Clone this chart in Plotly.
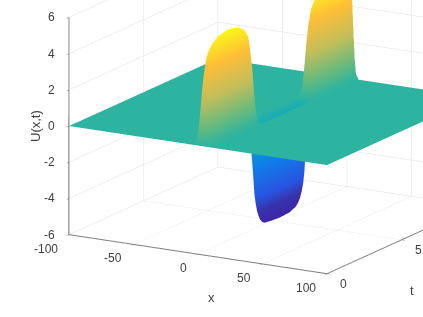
import numpy as np
import plotly.graph_objects as go

x_grid = [-100, -30, -9, -7, -6, -5, -4, -3, -2, -1, 0, 1, 2, 3, 4, 5, 6, 7, 9, 30, 100]
cross_profile = [0, 0, 0, 0, 0, 0, 0.01, 0.05, 0.14, 0.32, 0.62, 0.86, 0.97, 1, 0.85, 0.52, 0.22, 0.06, 0, 0, 0]
t_grid = [0, .1, .2, .3, .4, .55, .7, 1.1, 1.75, 2.4, 2.8, 2.95, 3.1, 3.2, 3.3, 3.4, 3.5,
          3.6, 3.7, 3.8, 3.9, 4.05, 4.2, 4.6, 5.25, 5.9, 6.3, 6.45, 6.6, 6.7, 6.8, 6.9, 7,
          7.1, 7.2, 7.3, 7.4, 7.55, 7.7, 8.1, 8.75, 9.4, 9.8, 10]
ridge_height = [0, 2.2, 3.6, 4.4, 4.9, 5.2, 5.4, 5.67, 5.8, 5.67, 5.4, 5.2, 4.9, 4.4, 3.6, 2.2, 0,
                -3, -4.7, -5.2, -5.5, -5.7, -5.8, -5.85, -5.9, -5.85, -5.7, -5.55, -5.3, -5, -4.6, -3, 0,
                2.2, 3.6, 4.4, 4.9, 5.2, 5.4, 5.67, 5.8, 5.67, 5.4, 5.2]
x_ticks = [-100, -50, 0, 50, 100]
t_ticks = [0, 5, 10]
t_labelled = [0, 5]
z_ticks = [-6, -4, -2, 0, 2, 4, 6]

parula = [[0, "rgb(62,38,168)"], [0.07, "rgb(55,50,170)"], [0.143, "rgb(40,85,225)"], [0.286, "rgb(15,125,235)"],
          [0.429, "rgb(5,165,205)"], [0.5, "rgb(46,180,160)"], [0.571, "rgb(95,185,130)"],
          [0.714, "rgb(195,190,90)"], [0.857, "rgb(254,190,56)"], [1, "rgb(249,251,21)"]]

z_vals = np.outer(ridge_height, cross_profile)

az, el = np.radians(30), np.radians(15.2)
d_dir = np.array([np.sin(az) * np.cos(el), -np.cos(az) * np.cos(el), np.sin(el)])
r = np.array([np.cos(az), np.sin(az), 0])
u = np.cross(d_dir, r) * -1
u = u if u[2] > 0 else -u
scale = 156.0
zoom_xy = 1.88
zoom_z = 1.42
dist = 3.0
c = -(60.0 * r + 46.0 * u) / scale
eye = c + dist * d_dir

grid_col = "rgb(222,222,222)"
text_col = "rgb(64,64,64)"
axis = dict(showbackground=False, gridcolor=grid_col, gridwidth=1, showline=True, linecolor="rgb(110,110,110)",
            linewidth=2, zeroline=False, showspikes=False, ticks="outside", ticklen=4, tickcolor="rgb(100,100,100)",
            showticklabels=False, title=dict(text=""))

fig = go.Figure(go.Surface(x=x_grid, y=t_grid, z=z_vals, colorscale=parula, cmin=-5.9, cmax=5.9,
                           showscale=False, hoverinfo="skip",
                           lighting=dict(ambient=1, diffuse=0, specular=0, roughness=1, fresnel=0)))
title_font = dict(family="Liberation Sans", size=13, color=text_col)
tick_font = dict(family="Liberation Sans", size=12, color=text_col)
def label(text, px, py, angle=0):
    return dict(text=text, x=px / 423, y=1 - py / 317, xref="paper", yref="paper", showarrow=False,
                xanchor="center", yanchor="middle", textangle=angle, font=title_font)
def tick(text, x, y, z, anchor, dx, dy):
    return dict(text=str(text), x=x, y=y, z=z, showarrow=False, xanchor=anchor, yanchor="middle",
                xshift=dx, yshift=dy, font=tick_font)
tick_notes = ([tick(v, v, 0, -6, "right", -9, -14) for v in x_ticks]
              + [tick(v, 100, v, -6, "center", 17, -10) for v in t_labelled]
              + [tick(v, -100, 0, v, "right", -12, 0) for v in z_ticks])
fig.update_layout(
    width=423, height=317, margin=dict(l=0, r=0, t=0, b=0), paper_bgcolor="white",
    annotations=[label("x", 212, 297), label("t", 412, 290), label("U(x,t)", 36, 126, -90)],
    scene=dict(
        domain=dict(x=[0, 1], y=[0, 1]),
        aspectmode="manual", aspectratio=dict(x=zoom_xy, y=zoom_xy, z=zoom_z),
        xaxis=dict(axis, range=[-100, 100], tickvals=x_ticks),
        yaxis=dict(axis, range=[0, 10], tickvals=t_ticks),
        zaxis=dict(axis, range=[-6, 6], tickvals=z_ticks),
        annotations=tick_notes,
        camera=dict(projection=dict(type="orthographic"),
                    up=dict(x=0, y=0, z=1),
                    center=dict(x=c[0], y=c[1], z=c[2]),
                    eye=dict(x=eye[0], y=eye[1], z=eye[2])),
    ),
)
fig.write_html("out.html", config=dict(displayModeBar=False),
               post_script="document.body.style.margin='0';document.documentElement.style.overflow='hidden';")
